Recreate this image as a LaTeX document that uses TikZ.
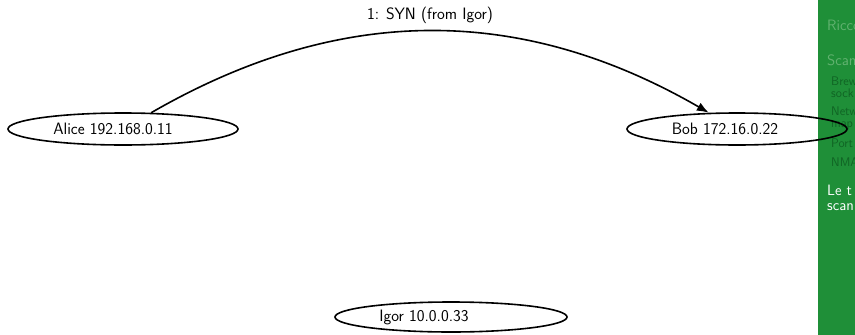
\documentclass[tikz,border=0pt]{standalone}
\usetikzlibrary{shapes.geometric,arrows.meta}
\definecolor{sidegreen}{RGB}{31,143,56}
\definecolor{sidedim}{RGB}{98,178,112}
\definecolor{sidedark}{RGB}{16,100,36}
\tikzset{
  host/.style={draw=black, ellipse, line width=1.6pt, inner sep=0pt},
  hosttext/.style={font=\sffamily\fontsize{16.5}{19}\selectfont, inner sep=0pt},
  msg/.style={-{Latex[length=12pt,width=9pt]}, line width=1.6pt},
  sidehead/.style={anchor=west, inner sep=0pt, font=\sffamily\fontsize{15}{17}\selectfont, text=sidedim},
  sideitem/.style={anchor=west, inner sep=0pt, align=left, font=\sffamily\fontsize{12.5}{12}\selectfont, text=sidedark},
  sidecur/.style={anchor=west, inner sep=0pt, align=left, font=\sffamily\fontsize{15}{14.5}\selectfont, text=white}
}
\begin{document}
\begin{tikzpicture}[x=1pt,y=-1pt]
\useasboundingbox (0,0) rectangle (855,335);
% sidebar
\fill[sidegreen] (818,0) rectangle (855,335);
\begin{scope}
\clip (818,0) rectangle (855,335);
\node[sidehead] (s1) at (827,25) {Ricco};
\node[sidehead] (s2) at (827,60) {Scan};
\node[sideitem] (s3) at (831,87) {Brew\\sock};
\node[sideitem] (s5) at (831,118) {Netw\\map};
\node[sideitem] (s7) at (831,143) {Port};
\node[sideitem] (s8) at (831,162) {NMA};
\node[sidecur] (s9) at (827,198) {Le t\\scan};
\end{scope}
% hosts
\node[host, minimum width=230pt, minimum height=32pt] (alice) at (123,129) {};
\node[hosttext] (alicet) at (113,129) {Alice 192.168.0.11};
\node[host, minimum width=220pt, minimum height=32pt] (bob) at (737,129) {};
\node[hosttext] (bobt) at (725,129) {Bob 172.16.0.22};
\node[host, minimum width=232pt, minimum height=30pt] (igor) at (451,317) {};
\node[hosttext] (igort) at (424,317) {Igor 10.0.0.33};
% message
\draw[msg] (alice) to[bend left=30] node[above, hosttext, yshift=7pt] (lbl) {1: SYN (from Igor)} (bob);
\end{tikzpicture}
\end{document}
